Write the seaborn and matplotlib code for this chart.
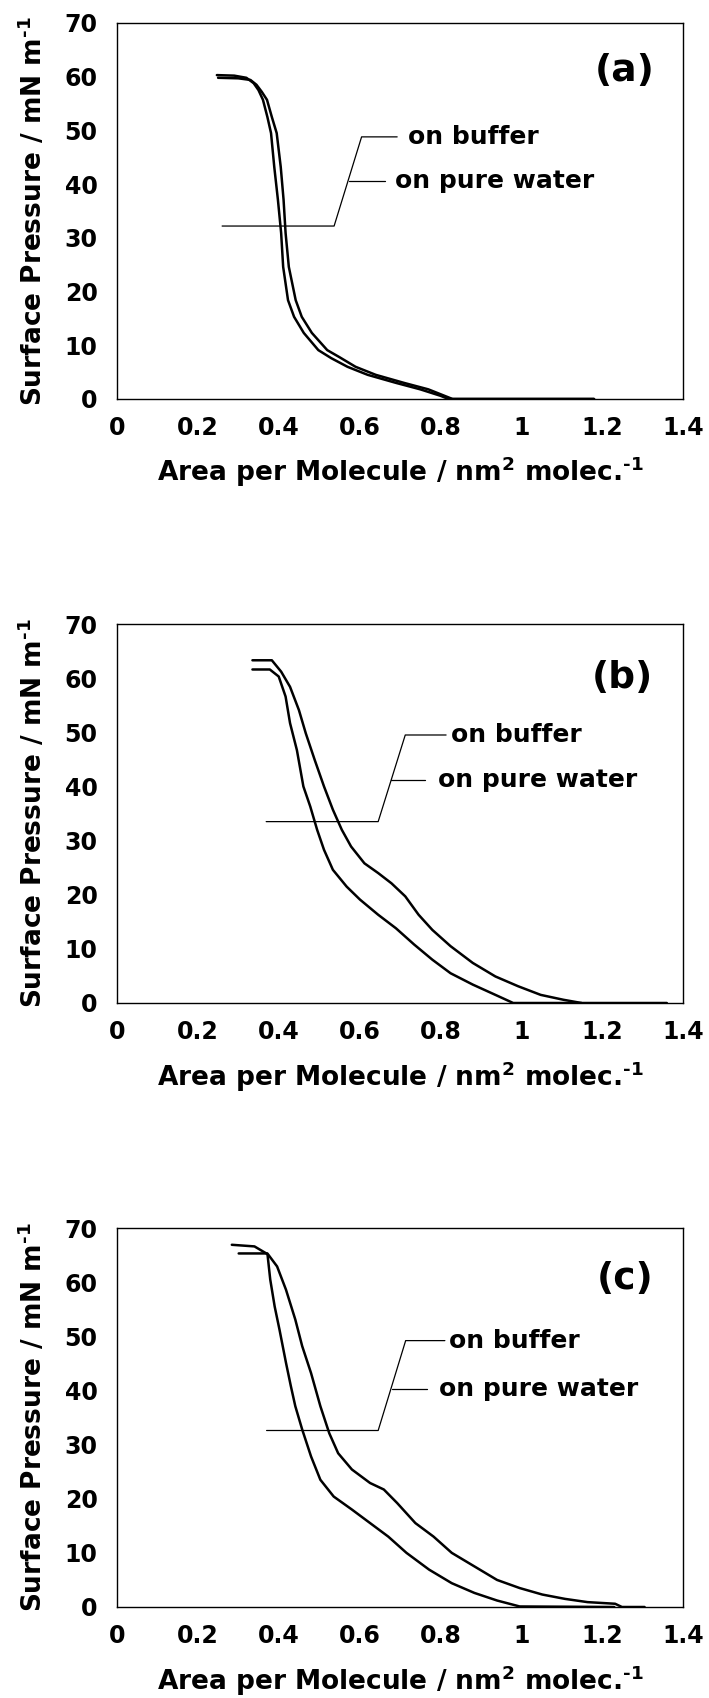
import numpy as np
import pandas as pd
import matplotlib
matplotlib.use("Agg")
import matplotlib.pyplot as plt
import seaborn as sns

# %%
# Isotherm data (area in nm2/molecule, pressure in mN/m)

# panel (a)
area_a1 = [0.247, 0.29, 0.32, 0.338, 0.350, 0.361, 0.372, 0.381, 0.389, 0.398, 0.406, 0.411,
           0.423, 0.438, 0.462, 0.498, 0.53, 0.57, 0.62, 0.69, 0.75, 0.80, 0.82, 1.18]
press_a1 = [60.3, 60.2, 59.8, 58.8, 57.5, 55.7, 52.5, 49.5, 43.2, 37.1, 30.9, 24.6,
            18.4, 15.3, 12.3, 9.1, 7.6, 6.0, 4.5, 3.0, 1.8, 0.6, 0.0, 0.0]
area_a2 = [0.25, 0.30, 0.33, 0.345, 0.358, 0.371, 0.383, 0.395, 0.405, 0.412, 0.417, 0.425,
           0.442, 0.457, 0.482, 0.52, 0.55, 0.59, 0.64, 0.71, 0.77, 0.81, 0.83, 1.18]
press_a2 = [59.8, 59.7, 59.4, 58.5, 57.2, 55.7, 52.5, 49.5, 43.2, 37.1, 30.9, 24.6,
            18.4, 15.3, 12.3, 9.1, 7.8, 6.0, 4.5, 3.0, 1.8, 0.6, 0.0, 0.0]

# panel (b)
area_b1 = [0.335, 0.378, 0.40, 0.417, 0.428, 0.445, 0.461, 0.478, 0.495, 0.512, 0.534, 0.568,
           0.601, 0.646, 0.69, 0.735, 0.78, 0.825, 0.88, 0.936, 0.98, 1.36]
press_b1 = [61.6, 61.6, 60.3, 56.6, 51.7, 46.7, 40.0, 36.3, 32.0, 28.3, 24.6, 21.5,
            19.1, 16.3, 13.8, 10.8, 8.0, 5.5, 3.4, 1.5, 0.0, 0.0]
area_b2 = [0.335, 0.383, 0.406, 0.428, 0.45, 0.467, 0.489, 0.512, 0.534, 0.556, 0.579, 0.612,
           0.646, 0.679, 0.713, 0.746, 0.78, 0.825, 0.88, 0.936, 0.992, 1.048, 1.104, 1.149]
press_b2 = [63.3, 63.3, 61.2, 58.4, 54.1, 49.8, 44.9, 40.0, 35.7, 32.0, 28.9, 25.8,
            24.0, 22.1, 19.7, 16.3, 13.5, 10.5, 7.4, 4.9, 3.1, 1.5, 0.6, 0.0]

# panel (c)
area_c1 = [0.301, 0.372, 0.379, 0.39, 0.402, 0.418, 0.43, 0.441, 0.458, 0.48, 0.503, 0.536,
           0.581, 0.626, 0.671, 0.716, 0.772, 0.828, 0.884, 0.94, 0.996, 1.23]
press_c1 = [65.3, 65.3, 60.5, 55.5, 51.2, 45.1, 40.8, 37.1, 32.8, 27.8, 23.5, 20.4,
            18.0, 15.5, 13.0, 10.0, 6.9, 4.4, 2.6, 1.2, 0.1, 0.0]
area_c2 = [0.284, 0.34, 0.374, 0.396, 0.418, 0.441, 0.458, 0.48, 0.503, 0.525, 0.547, 0.581,
           0.626, 0.66, 0.693, 0.738, 0.783, 0.828, 0.884, 0.94, 0.996, 1.052, 1.108, 1.164,
           1.232, 1.249, 1.305]
press_c2 = [66.9, 66.6, 65.1, 62.9, 58.6, 53.1, 48.2, 43.2, 37.1, 32.1, 28.4, 25.4,
            22.9, 21.7, 19.2, 15.5, 13.0, 10.0, 7.5, 5.0, 3.5, 2.3, 1.5, 0.9,
            0.6, 0.0, 0.0]

# leader lines for the labels: (x list, y list)
leader_a = ([0.26, 0.537, 0.605, 0.693], [32.2, 32.2, 48.8, 48.8])
branch_a = ([0.574, 0.663], [40.5, 40.5])
leader_b = ([0.369, 0.646, 0.713, 0.814], [33.5, 33.5, 49.5, 49.5])
branch_b = ([0.677, 0.763], [41.2, 41.2])
leader_c = ([0.370, 0.646, 0.714, 0.811], [32.6, 32.6, 49.2, 49.2])
branch_c = ([0.680, 0.766], [40.3, 40.3])

# label anchors: (buffer label, pure water label, panel letter)
labels_a = ((0.720, 48.8), (0.687, 40.6), (1.331, 61.0))
labels_b = ((0.825, 49.5), (0.793, 41.2), (1.327, 60.0))
labels_c = ((0.822, 49.2), (0.797, 40.3), (1.327, 60.5))

panel_names = ["(a)", "(b)", "(c)"]
x_ticks = [0, 0.2, 0.4, 0.6, 0.8, 1.0, 1.2, 1.4]
x_tick_labels = ["0", "0.2", "0.4", "0.6", "0.8", "1", "1.2", "1.4"]
y_ticks = [0, 10, 20, 30, 40, 50, 60, 70]

# %%
sns.set_style("white")
plt.rcParams['font.family'] = ['DejaVu Sans']
plt.rcParams['font.weight'] = 'bold'
plt.rcParams['mathtext.default'] = 'bf'
plt.rcParams['text.color'] = 'black'
plt.rcParams['axes.labelcolor'] = 'black'
plt.rcParams['xtick.color'] = 'black'
plt.rcParams['ytick.color'] = 'black'

W, H = 709, 1698
fig = plt.figure(figsize=(W / 100, H / 100), dpi=100)

# axes boxes in pixels: (top, bottom)
boxes = [(23, 399), (624, 1003), (1228, 1607)]
left_px, right_px = 117, 683

panels = [
    (area_a1, press_a1, area_a2, press_a2, leader_a, branch_a, labels_a),
    (area_b1, press_b1, area_b2, press_b2, leader_b, branch_b, labels_b),
    (area_c1, press_c1, area_c2, press_c2, leader_c, branch_c, labels_c),
]

for i, (x1, y1, x2, y2, leader, branch, labs) in enumerate(panels):
    top, bot = boxes[i]
    ax = fig.add_axes([left_px / W, (H - bot) / H, (right_px - left_px) / W, (bot - top) / H])

    df = pd.concat([
        pd.DataFrame({'area': x1, 'pressure': y1, 'curve': 'a'}),
        pd.DataFrame({'area': x2, 'pressure': y2, 'curve': 'b'}),
    ])
    sns.lineplot(data=df, x='area', y='pressure', units='curve', estimator=None,
                 sort=False, color='black', lw=1.8, ax=ax, legend=False)

    ax.plot(leader[0], leader[1], color='black', lw=0.9)
    ax.plot(branch[0], branch[1], color='black', lw=0.9)

    (bx, by), (wx, wy), (px, py) = labs
    ax.text(bx, by, "on buffer", fontsize=18, fontweight='bold', va='center', ha='left')
    ax.text(wx, wy, "on pure water", fontsize=18, fontweight='bold', va='center', ha='left')
    ax.text(px, py, panel_names[i], fontsize=27, fontweight='bold', va='center', ha='right')

    ax.set_xlim(0, 1.4)
    ax.set_ylim(0, 70)
    ax.set_xticks(x_ticks)
    ax.set_xticklabels(x_tick_labels)
    ax.set_yticks(y_ticks)

    ax.tick_params(axis='both', direction='in', length=11, width=1.0, labelsize=17,
                   top=False, right=False, color='black', labelcolor='black')
    ax.tick_params(axis='x', pad=12)
    ax.tick_params(axis='y', pad=14)
    for lab in ax.get_xticklabels() + ax.get_yticklabels():
        lab.set_fontweight('bold')

    for sp in ax.spines.values():
        sp.set_visible(True)
        sp.set_color('black')
        sp.set_linewidth(1.0)

    ax.set_xlabel(r"Area per Molecule / nm$^{2}$ molec.$^{\text{-}1}$", fontsize=19, fontweight='bold')
    ax.set_ylabel(r"Surface Pressure / mN m$^{\text{-}1}$", fontsize=19, fontweight='bold')
    ax.xaxis.set_label_coords(0.5, -0.148)
    ax.yaxis.set_label_coords(-0.122, 0.5)

fig.savefig("out.png", dpi=100, facecolor='white')
